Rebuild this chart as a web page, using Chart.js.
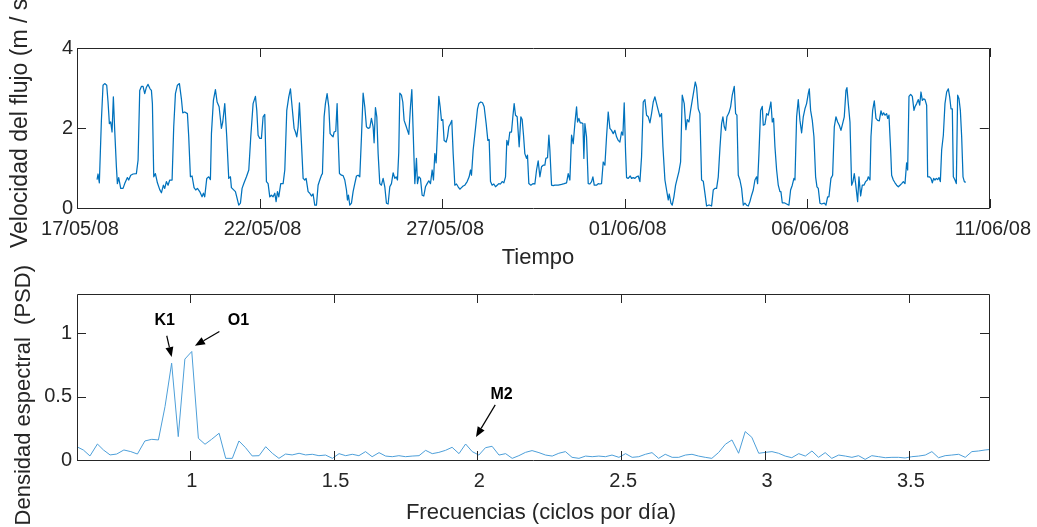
<!DOCTYPE html>
<html>
<head>
<meta charset="utf-8">
<script src="https://cdn.jsdelivr.net/npm/chart.js@4/dist/chart.umd.min.js"></script>
<style>
  html, body { margin: 0; padding: 0; background: #ffffff; }
  #wrap { position: relative; width: 1037px; height: 527px; overflow: hidden; background: #fff; }
  canvas { position: absolute; left: 0; top: 0; }
</style>
</head>
<body>
<div id="wrap">
  <canvas id="c1" width="1037" height="527"></canvas>
  <canvas id="c2" width="1037" height="527"></canvas>
</div>
<script>
// ---------------- DATA ----------------
// Top panel: flow speed (m/s) vs time in days since 17/05/08 00:00
const days = [
0.549,0.576,0.612,0.668,0.713,0.759,0.814,0.850,0.887,0.923,0.960,0.996,1.033,1.079,1.106,1.142,1.197,1.261,1.307,1.380,
1.416,1.472,1.536,1.626,1.673,1.718,1.764,1.809,1.855,1.901,1.946,2.001,2.038,2.065,2.102,2.147,2.202,2.266,2.312,2.366,
2.403,2.448,2.494,2.540,2.604,2.649,2.696,2.750,2.805,2.859,2.896,2.951,3.024,3.060,3.106,3.151,3.206,3.252,3.298,3.361,
3.425,3.462,3.498,3.554,3.608,3.654,3.682,3.736,3.791,3.837,3.892,3.955,3.992,4.047,4.101,4.156,4.202,4.229,4.284,4.339,
4.375,4.430,4.476,4.521,4.576,4.641,4.705,4.759,4.823,4.887,4.924,4.960,5.005,5.051,5.097,5.143,5.188,5.234,5.280,5.325,
5.370,5.417,5.453,5.490,5.526,5.580,5.645,5.691,5.745,5.800,5.846,5.891,5.946,5.983,6.019,6.056,6.092,6.148,6.193,6.238,
6.275,6.330,6.375,
6.421,6.466,6.512,6.558,6.603,6.649,6.695,6.722,6.768,6.804,6.850,6.896,6.932,6.969,7.014,7.042,7.087,7.124,7.151,7.188,
7.243,7.288,7.334,7.380,7.407,7.434,7.471,7.517,7.562,7.608,7.654,7.699,7.745,7.791,7.836,7.882,7.927,7.973,8.019,8.064,
8.110,8.137,8.174,8.211,8.247,8.293,8.338,8.384,8.430,8.475,8.521,8.567,8.612,8.658,8.704,8.740,8.777,8.813,8.841,8.886,
8.923,8.959,9.005,9.051,9.087,9.133,9.170,9.206,9.252,9.297,9.325,9.361,9.407,9.453,9.498,9.544,9.590,9.635,9.681,9.727,
9.763,9.800,9.836,9.873,9.909,9.946,9.982,10.019,10.055,10.110,10.147,10.183,10.229,10.265,10.302,10.348,10.393,10.439,10.485,10.530,
10.576,10.622,10.686,10.740,10.777,10.804,10.850,10.914,10.969,11.005,11.060,11.106,11.151,11.206,11.252,11.288,11.325,11.370,11.416,11.462,
11.507,11.553,11.599,11.644,11.690,11.736,11.772,11.809,11.854,11.900,11.937,11.973,12.010,12.055,12.110,12.156,12.192,12.229,12.265,12.311,
12.338,12.375,
12.430,12.494,12.540,12.586,12.631,12.677,12.723,12.768,12.814,12.841,12.887,12.924,12.951,12.997,13.042,13.088,13.179,13.271,13.344,13.408,
13.453,13.499,13.545,13.590,13.636,13.682,13.709,13.745,13.782,13.819,13.855,13.882,13.910,13.955,14.001,14.047,14.093,14.129,14.166,14.229,
14.275,14.321,14.366,14.412,14.458,14.503,14.549,14.595,14.640,14.686,14.732,14.777,14.823,14.869,14.914,14.951,14.987,15.024,15.051,15.097,
15.152,15.188,15.234,15.280,15.325,15.371,15.417,15.462,15.508,15.554,15.599,15.645,15.691,15.736,15.782,15.828,15.873,15.919,15.965,16.010,
16.047,16.102,16.147,16.193,16.220,16.266,16.302,16.348,16.394,16.439,16.485,16.531,16.576,16.631,16.677,16.713,16.759,16.805,16.850,16.896,
16.933,16.969,17.015,17.060,17.106,17.152,17.197,17.243,17.289,17.334,17.380,17.426,17.471,17.517,17.563,17.608,17.654,17.690,17.727,17.764,
17.800,17.855,17.901,17.946,18.001,18.038,18.074,18.111,18.156,18.202,18.248,18.293,18.339,18.385,
18.430,18.476,18.521,18.567,18.613,18.640,18.677,18.722,18.768,18.795,18.841,18.887,18.932,18.978,19.005,19.042,19.078,19.115,19.161,19.206,
19.252,19.279,19.316,19.371,19.435,19.498,19.544,19.590,19.635,19.663,19.709,19.754,19.800,19.846,19.891,19.937,19.982,20.028,20.056,20.092,
20.138,20.183,20.229,20.266,20.302,20.348,20.393,20.467,20.512,20.558,20.594,20.649,20.695,20.741,20.786,20.832,20.877,20.923,20.969,21.014,
21.060,21.087,21.124,21.170,21.215,21.252,21.288,21.325,21.380,21.416,21.462,21.508,21.553,21.599,21.645,21.672,21.718,21.745,21.791,21.836,
21.882,21.928,21.973,22.019,22.056,22.092,22.129,22.174,22.202,22.238,22.284,22.311,22.357,22.403,22.448,22.494,22.540,22.585,22.631,22.677,
22.722,22.750,22.786,22.832,22.878,22.923,22.951,22.996,23.042,23.079,23.115,23.152,23.188,23.225,23.270,23.298,23.343,23.389,23.425,23.462,
23.498,23.535,23.571,23.608,23.645,23.681,23.727,23.772,23.818,23.864,23.900,23.937,23.973,24.001,24.046,24.083,24.119,24.156,24.193,24.229,
24.266,24.302,24.339
];
const speed = [
0.71,0.85,0.63,2.19,3.07,3.11,3.07,2.65,2.11,2.15,1.90,2.78,1.94,1.03,0.61,0.76,0.49,0.49,0.61,0.76,
0.70,0.82,0.85,0.86,1.20,2.94,3.04,3.04,2.86,3.02,3.09,2.98,2.94,2.61,0.78,0.86,0.63,0.46,0.38,0.57,
0.49,0.66,0.57,0.70,0.70,2.03,2.86,3.07,3.11,2.73,2.38,2.40,2.36,1.78,0.78,0.80,0.51,0.45,0.49,0.41,
0.28,0.37,0.28,0.74,0.78,0.71,1.86,2.69,2.96,2.65,2.53,1.99,2.15,2.61,1.78,0.74,0.78,0.51,0.46,0.41,
0.28,0.07,0.12,0.49,0.63,0.78,0.95,1.78,2.61,2.79,2.44,1.82,1.74,1.74,2.28,2.34,0.66,0.61,0.28,0.32,
0.28,0.37,0.16,0.41,0.28,0.61,0.61,0.95,2.44,2.78,2.98,2.53,1.99,1.90,1.78,2.03,2.63,1.61,0.74,0.70,
0.74,0.41,0.37,
0.30,0.35,0.07,0.07,0.57,0.70,0.82,0.86,2.28,2.61,2.86,2.53,1.86,1.82,1.78,1.90,1.92,2.61,1.78,0.86,
0.82,0.81,0.70,0.45,0.20,0.32,0.07,0.12,0.41,0.61,0.80,0.82,0.78,1.78,2.87,2.53,2.03,1.99,2.01,2.24,
2.03,1.63,2.51,2.28,1.36,0.61,0.57,0.74,0.53,0.12,0.10,0.53,0.61,0.88,0.74,0.78,0.70,1.40,2.87,2.82,
2.65,2.19,2.07,1.94,1.84,2.53,2.96,1.94,0.61,1.24,0.61,0.78,0.74,0.32,0.30,0.53,0.61,0.68,0.61,0.95,
0.70,1.36,1.13,1.94,2.79,2.53,2.19,2.21,1.69,1.65,1.78,2.03,2.11,2.19,1.36,0.57,0.60,0.53,0.47,0.51,
0.55,0.57,0.66,0.78,0.95,0.82,1.45,1.99,2.48,2.61,2.65,2.63,2.53,2.11,1.69,1.71,0.66,0.57,0.60,0.53,
0.57,0.61,0.60,0.66,0.63,0.78,1.69,1.57,1.90,1.90,2.28,2.61,2.32,2.28,1.53,2.28,2.21,1.82,1.36,1.24,
1.32,0.61,
0.57,0.61,0.60,0.95,1.18,0.78,1.03,1.07,1.07,1.24,1.26,1.82,1.45,0.57,0.56,0.57,0.57,0.59,0.61,0.63,
0.86,0.70,1.82,1.61,2.11,2.53,2.15,2.24,2.13,2.13,2.11,1.24,2.11,1.78,0.61,0.60,0.66,0.78,0.57,0.57,
0.61,0.60,0.61,1.15,1.07,1.78,2.40,1.99,1.94,1.86,1.94,1.78,1.69,1.65,1.90,1.82,2.63,1.40,0.76,0.74,
0.80,0.74,0.76,0.74,0.78,0.80,0.66,1.28,2.65,2.71,2.32,2.28,2.13,2.36,2.65,2.78,2.61,2.44,2.28,2.36,
1.53,0.70,0.45,0.20,0.35,0.12,0.07,0.28,0.57,0.74,0.91,1.15,2.82,2.61,1.96,2.21,2.15,2.44,2.69,2.94,
3.15,3.02,2.48,2.36,0.70,0.67,0.37,0.05,0.07,0.07,0.05,0.45,0.49,0.49,0.78,1.49,2.11,2.28,2.03,1.94,
2.28,2.38,2.53,2.82,3.04,2.36,2.32,0.82,0.70,0.49,0.07,0.12,0.07,0.05,
0.16,0.32,0.45,0.70,0.78,0.61,1.36,2.44,2.54,2.07,2.09,2.36,2.32,2.53,2.65,2.15,2.24,1.53,0.95,0.57,
0.41,0.41,0.13,0.13,0.10,0.07,0.45,0.57,0.74,0.70,2.28,2.71,2.19,1.88,2.28,2.48,2.61,2.86,2.98,2.44,
2.19,1.78,0.78,0.53,0.49,0.12,0.10,0.12,0.07,0.28,0.28,0.74,0.82,2.03,2.28,2.15,2.07,1.94,2.11,2.28,
2.94,3.01,2.61,2.15,0.57,0.66,0.86,0.61,0.16,0.78,0.30,0.57,0.57,0.66,0.70,0.78,0.70,1.78,2.44,2.68,
2.24,2.19,2.18,2.43,2.32,2.38,2.32,2.36,2.24,2.32,1.45,0.82,0.70,0.63,0.57,0.53,0.57,0.61,0.66,0.61,
1.13,0.95,2.79,2.84,2.79,2.44,2.53,2.61,2.71,2.57,2.90,2.69,2.73,2.71,2.57,0.78,0.78,0.74,0.63,0.74,
0.70,0.74,0.71,0.76,0.66,1.45,1.82,2.61,2.90,2.98,2.78,2.48,2.48,0.78,0.70,0.61,2.82,2.73,2.44,1.78,
0.78,0.66,0.64
];
const dateTickDays   = [0, 5, 10, 15, 20, 25];
const dateTickLabels = ['17/05/08', '22/05/08', '27/05/08', '01/06/08', '06/06/08', '11/06/08'];
const speedTicks     = [0, 2, 4];

// Bottom panel: spectral density vs frequency (cycles per day)
const freq = [
0.607,0.630,0.653,0.679,0.700,0.723,0.746,0.771,0.795,0.818,0.844,0.868,0.891,0.914,0.937,0.960,0.983,1.007,1.030,1.053,
1.076,1.102,1.125,1.148,1.171,1.194,1.217,1.241,1.264,1.287,1.310,1.333,1.356,1.380,1.403,
1.426,1.449,1.472,1.496,1.519,1.542,1.565,1.588,1.611,1.634,1.658,1.681,1.704,1.727,1.750,1.773,1.797,1.820,1.843,1.866,
1.889,1.912,1.936,1.959,1.982,2.005,2.028,2.051,2.075,2.098,2.121,2.144,2.167,2.190,2.214,2.237,2.260,2.283,2.306,2.329,
2.353,2.376,2.399,2.422,2.445,2.468,2.492,2.515,2.538,2.561,2.584,
2.607,2.630,2.653,2.677,2.700,2.723,2.746,2.769,2.792,2.815,2.839,2.862,2.885,2.908,2.931,2.954,2.978,3.001,3.024,3.047,
3.070,3.093,3.117,3.140,3.163,3.186,3.209,3.232,3.256,3.279,3.302,3.325,3.348,3.371,3.395,3.418,3.441,3.464,3.487,3.510,
3.534,3.557,3.580,3.603,3.626,3.649,3.673,3.696,3.719,3.742,3.765,3.788
];
const psd = [
0.105,0.079,0.032,0.126,0.079,0.040,0.047,0.079,0.066,0.047,0.150,0.163,0.158,0.421,0.763,0.184,0.795,0.855,0.171,0.124,
0.163,0.211,0.013,0.013,0.150,0.097,0.032,0.034,0.105,0.053,0.013,0.047,0.040,0.053,0.040,
0.045,0.034,0.039,0.013,0.050,0.034,0.045,0.034,0.066,0.026,0.058,0.031,0.026,0.034,0.026,0.031,0.034,0.076,0.050,0.060,
0.076,0.100,0.050,0.126,0.066,0.039,0.097,0.108,0.039,0.050,0.013,0.034,0.060,0.074,0.058,0.039,0.031,0.053,0.066,0.021,
0.013,0.031,0.026,0.031,0.026,0.039,0.021,0.050,0.021,0.026,0.045,
0.058,0.013,0.045,0.021,0.021,0.039,0.045,0.031,0.021,0.013,0.060,0.124,0.158,0.053,0.224,0.179,0.053,0.060,0.066,0.053,
0.031,0.018,0.050,0.031,0.071,0.021,0.058,0.013,0.039,0.031,0.021,0.034,0.005,0.034,0.026,0.018,0.021,0.021,0.016,0.026,
0.031,0.039,0.066,0.018,0.034,0.039,0.045,0.021,0.066,0.071,0.079,0.084
];
const freqTicks = [1, 1.5, 2, 2.5, 3, 3.5];
const freqTickLabels = ['1', '1.5', '2', '2.5', '3', '3.5'];
const psdTicks = [0, 0.5, 1];
const psdTickLabels = ['0', '0.5', '1'];

// Constituent annotations (in data coordinates of the bottom panel)
const peakNames  = ['K1', 'O1', 'M2'];
const peakTextAt = [[0.913, 1.097], [1.169, 1.097], [2.084, 0.513]];
const arrowFrom  = [[0.920, 0.979], [1.103, 1.013], [2.062, 0.434]];
const arrowTo    = [[0.937, 0.811], [1.018, 0.900], [1.995, 0.182]];

// ---------------- STYLE / HELPERS ----------------
const FONT = "'Liberation Sans', Arial, Helvetica, sans-serif";
const TXT = '#262626';

const boxTicks = {
  id: 'boxTicks',
  afterDatasetsDraw(chart) {
    const { ctx, chartArea: a, scales } = chart;
    const x = scales.x, y = scales.y;
    const L = 9;
    ctx.save();
    ctx.strokeStyle = TXT;
    ctx.lineWidth = 1;
    ctx.beginPath();
    ctx.rect(Math.round(a.left) + 0.5, Math.round(a.top) + 0.5,
             Math.round(a.right) - Math.round(a.left) - 1, Math.round(a.bottom) - Math.round(a.top));
    ctx.stroke();
    ctx.beginPath();
    x.ticks.forEach(t => {
      const px = Math.round(x.getPixelForValue(t.value)) + 0.5;
      ctx.moveTo(px, a.bottom); ctx.lineTo(px, a.bottom - L);
      ctx.moveTo(px, a.top); ctx.lineTo(px, a.top + L);
    });
    y.ticks.forEach(t => {
      const py = Math.round(y.getPixelForValue(t.value)) + 0.5;
      ctx.moveTo(a.left, py); ctx.lineTo(a.left + L, py);
      ctx.moveTo(a.right - 1, py); ctx.lineTo(a.right - 1 - L, py);
    });
    ctx.stroke();
    ctx.restore();
  }
};

const axisTitles = {
  id: 'axisTitles',
  afterDraw(chart, args, o) {
    const { ctx } = chart;
    ctx.save();
    ctx.fillStyle = TXT;
    ctx.font = o.xSize + 'px ' + FONT;
    ctx.textAlign = 'center';
    ctx.textBaseline = 'alphabetic';
    ctx.fillText(o.xText, o.xPos[0], o.xPos[1]);
    ctx.translate(o.yPos[0], o.yPos[1]);
    ctx.rotate(-Math.PI / 2);
    ctx.font = o.ySize + 'px ' + FONT;
    ctx.textAlign = o.yAlign;
    ctx.fillText(o.yText, 0, 0);
    ctx.restore();
  }
};

const peakNotes = {
  id: 'peakNotes',
  afterDraw(chart) {
    const { ctx, scales: { x, y } } = chart;
    ctx.save();
    ctx.fillStyle = '#000';
    ctx.strokeStyle = '#000';
    ctx.lineWidth = 1.2;
    ctx.font = 'bold 16px ' + FONT;
    ctx.textAlign = 'center';
    ctx.textBaseline = 'middle';
    peakNames.forEach((name, i) => {
      ctx.fillText(name, x.getPixelForValue(peakTextAt[i][0]), y.getPixelForValue(peakTextAt[i][1]));
      const x0 = x.getPixelForValue(arrowFrom[i][0]), y0 = y.getPixelForValue(arrowFrom[i][1]);
      const x1 = x.getPixelForValue(arrowTo[i][0]),   y1 = y.getPixelForValue(arrowTo[i][1]);
      const ang = Math.atan2(y1 - y0, x1 - x0);
      const hl = 10, hw = 4;
      const bx = x1 - hl * Math.cos(ang), by = y1 - hl * Math.sin(ang);
      ctx.beginPath();
      ctx.moveTo(x0, y0); ctx.lineTo(bx, by);
      ctx.stroke();
      ctx.beginPath();
      ctx.moveTo(x1, y1);
      ctx.lineTo(bx + hw * Math.sin(ang), by - hw * Math.cos(ang));
      ctx.lineTo(bx - hw * Math.sin(ang), by + hw * Math.cos(ang));
      ctx.closePath();
      ctx.fill();
    });
    ctx.restore();
  }
};

function xScale(min, max, tickVals, tickLabels, bottomEdge, shift) {
  return {
    type: 'linear', position: 'bottom', min, max,
    grid: { display: false, drawTicks: false }, border: { display: false },
    afterBuildTicks: s => { s.ticks = tickVals.map(v => ({ value: v })); },
    afterFit: s => { s.height = 527 - bottomEdge; },
    ticks: { autoSkip: false, maxRotation: 0, padding: 9, labelOffset: shift, color: TXT,
             font: { family: FONT, size: 20 }, callback: (v, i) => tickLabels[i] }
  };
}
function yScale(min, max, tickVals, tickLabels, pad) {
  return {
    type: 'linear', position: 'left', min, max,
    grid: { display: false, drawTicks: false }, border: { display: false },
    afterBuildTicks: s => { s.ticks = tickVals.map(v => ({ value: v })); },
    afterFit: s => { s.width = 77; },
    ticks: { autoSkip: false, padding: pad, color: TXT,
             font: { family: FONT, size: 20 }, callback: (v, i) => tickLabels[i] }
  };
}

// ---------------- TOP CHART ----------------
new Chart(document.getElementById('c1'), {
  type: 'line',
  data: { datasets: [{
    data: days.map((d, i) => ({ x: d, y: speed[i] })),
    borderColor: '#0072BD', borderWidth: 1.25, pointRadius: 0, tension: 0,
    borderJoinStyle: 'round', fill: false
  }]},
  options: {
    responsive: false, animation: false, devicePixelRatio: 1,
    events: [],
    layout: { padding: { left: 0, top: 48, right: 47, bottom: 0 } },
    plugins: {
      legend: { display: false }, tooltip: { enabled: false },
      axisTitles: { xText: 'Tiempo', xSize: 22, xPos: [538, 264],
                    yText: 'Velocidad del flujo (m / s)', ySize: 23, yPos: [27, 248], yAlign: 'left' }
    },
    scales: {
      x: xScale(0, 25, dateTickDays, dateTickLabels, 208, 3),
      y: yScale(0, 4, speedTicks, speedTicks.map(String), 4)
    }
  },
  plugins: [boxTicks, axisTitles]
});

// ---------------- BOTTOM CHART ----------------
new Chart(document.getElementById('c2'), {
  type: 'line',
  data: { datasets: [{
    data: freq.map((f, i) => ({ x: f, y: psd[i] })),
    borderColor: '#4d9fd9', borderWidth: 1, pointRadius: 0, tension: 0,
    borderJoinStyle: 'round', fill: false
  }]},
  options: {
    responsive: false, animation: false, devicePixelRatio: 1,
    events: [],
    layout: { padding: { left: 0, top: 294, right: 47, bottom: 0 } },
    plugins: {
      legend: { display: false }, tooltip: { enabled: false },
      axisTitles: { xText: 'Frecuencias (ciclos por día)', xSize: 22, xPos: [541, 519],
                    yText: 'Densidad espectral  (PSD)', ySize: 22, yPos: [30, 265], yAlign: 'right' }
    },
    scales: {
      x: xScale(0.608, 3.782, freqTicks, freqTickLabels, 460, 2),
      y: yScale(0, 1.308, psdTicks, psdTickLabels, 5)
    }
  },
  plugins: [boxTicks, axisTitles, peakNotes]
});
</script>
</body>
</html>
